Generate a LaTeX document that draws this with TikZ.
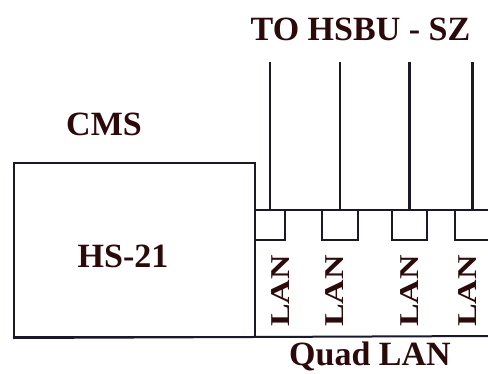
\documentclass[tikz,border=0pt]{standalone}
\usepackage{fontspec}
\setmainfont{Liberation Serif}
\definecolor{txt}{RGB}{45,10,10}
\definecolor{ln}{RGB}{28,24,44}
\tikzset{
  ttl/.style={font=\bfseries\fontsize{34}{34}\selectfont, text=txt, inner sep=0pt, anchor=base},
  lanlbl/.style={font=\bfseries\fontsize{34}{34}\selectfont, text=txt, inner sep=0pt, rotate=90},
  boxline/.style={draw=ln, line width=2pt},
  port/.style={inner sep=0pt, minimum height=30pt},
}
\begin{document}
\begin{tikzpicture}[x=1pt,y=-1pt]
\useasboundingbox (0,0) rectangle (488,373);
\fill[white] (0,0) rectangle (488,373);

% HS-21 box
\node[boxline, minimum width=241pt, minimum height=174pt, anchor=north west, inner sep=0pt] (hs) at (13,162) {};
\node[ttl] (hslbl) at (123,267) {HS-21};
\node[ttl] (cms) at (104,135) {CMS};

% Quad LAN box (open to the right edge)
\coordinate (qtl) at (254,210);
\coordinate (qtr) at (490,210);
\coordinate (qbr) at (490,336);
\draw[boxline] (qtl) -- (qtr);
\draw[boxline] (hs.south west) -- (qbr);
\node[ttl] (quad) at (370,365) {Quad LAN};

% ports
\node[port, minimum width=30pt] (p1) at (270,225) {};
\node[port, minimum width=36pt] (p2) at (340,225) {};
\node[port, minimum width=35pt] (p3) at (409.5,225) {};
\node[port, minimum width=35pt] (p4) at (472.5,225) {};
\foreach \p in {p1,p2,p3,p4}{
  \draw[boxline] (\p.north west) |- (\p.south east) -- (\p.north east);
}

% LAN labels
\node[lanlbl] (l1) at (281,291) {\scalebox{1}[0.8]{LAN}};
\node[lanlbl] (l2) at (335,291) {\scalebox{1}[0.8]{LAN}};
\node[lanlbl] (l3) at (410,291) {\scalebox{1}[0.8]{LAN}};
\node[lanlbl] (l4) at (468,291) {\scalebox{1}[0.8]{LAN}};

% lines to HSBU
\node[ttl] (to) at (360.5,40) {TO HSBU - SZ};
\coordinate (t1) at (270,62);
\coordinate (t2) at (340,62);
\coordinate (t3) at (409.5,62);
\coordinate (t4) at (472.5,62);
\draw[boxline, line width=2.4pt] (t1) -- (p1.north);
\draw[boxline, line width=2.4pt] (t2) -- (p2.north);
\draw[boxline, line width=2.4pt] (t3) -- (p3.north);
\draw[boxline, line width=2.4pt] (t4) -- (p4.north);
\end{tikzpicture}
\end{document}
